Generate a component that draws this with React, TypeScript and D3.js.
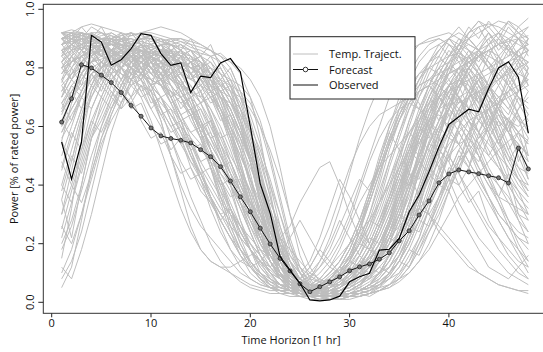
import React from "react";
import * as d3 from "d3";

const hours = d3.range(1, 49);

const forecast = [0.615,0.695,0.811,0.80,0.775,0.75,0.716,0.672,0.635,0.595,0.568,0.559,0.553,0.544,0.521,0.497,0.463,0.414,0.36,0.309,0.253,0.199,0.15,0.107,0.063,0.036,0.053,0.07,0.087,0.108,0.121,0.131,0.147,0.169,0.21,0.244,0.298,0.346,0.408,0.438,0.452,0.445,0.439,0.432,0.425,0.407,0.526,0.455];

const observed = [0.547,0.42,0.547,0.911,0.888,0.809,0.828,0.866,0.917,0.911,0.849,0.809,0.817,0.716,0.772,0.767,0.817,0.832,0.786,0.60,0.405,0.304,0.156,0.11,0.065,0.008,0.005,0.008,0.021,0.07,0.087,0.099,0.178,0.181,0.218,0.309,0.366,0.446,0.531,0.607,0.633,0.659,0.65,0.73,0.80,0.821,0.768,0.577];

// Temporal trajectories (percent of rated power)
const trajectories: number[][] = [
[88,90,91,90,92,89,90,88,87,85,86,82,80,78,72,63,52,40,28,18,10,6,4,3,2,2,3,4,5,7,9,12,18,27,38,50,62,70,76,80,78,82,85,80,76,79,83,80],
[75,82,86,88,90,91,89,90,88,86,84,85,83,80,81,78,75,70,60,48,34,22,12,7,4,3,2,2,3,4,6,8,10,14,22,32,45,55,62,66,70,72,68,64,60,63,58,55],
[62,70,78,84,87,88,86,84,80,76,70,64,58,50,42,35,28,22,16,12,8,6,5,4,4,5,6,8,11,15,21,30,40,52,62,70,76,80,82,84,85,83,86,88,90,87,84,82],
[92,93,92,91,90,90,91,92,90,89,90,88,89,87,86,84,85,82,78,70,56,38,20,10,5,3,2,2,3,3,4,6,8,12,18,26,36,46,55,60,62,58,50,44,40,36,30,28],
[15,32,55,72,80,84,86,85,83,84,82,80,76,70,62,52,42,32,22,14,9,6,4,3,3,4,5,7,10,14,20,28,38,48,58,66,72,74,70,66,62,58,54,50,46,42,38,34],
[80,84,87,86,84,82,80,78,76,70,62,50,38,26,18,14,12,10,8,6,5,4,4,3,3,4,6,9,12,16,22,30,42,55,66,75,82,86,88,90,88,86,84,80,78,82,86,88],
[85,88,90,89,88,86,87,88,86,82,80,78,75,72,74,70,66,60,52,42,30,18,10,6,4,3,3,2,2,3,3,4,5,6,8,10,14,18,24,30,36,40,44,48,52,55,58,62],
[70,76,80,82,85,84,86,88,90,91,89,88,86,82,78,72,64,54,44,34,24,16,10,6,5,4,4,5,8,14,24,36,48,58,66,72,78,82,84,80,76,72,68,72,76,80,84,86],
[55,68,78,84,86,88,88,87,85,83,80,77,74,70,66,60,54,48,40,32,24,16,10,7,6,6,8,12,18,26,34,40,46,50,54,58,62,66,70,74,76,74,70,66,62,58,52,48],
[90,91,90,88,87,85,84,82,80,78,76,74,70,64,56,46,36,26,18,12,8,5,4,4,5,8,14,22,32,44,56,66,74,80,84,86,88,89,90,88,86,82,78,74,70,66,72,78],
[40,52,64,74,80,84,86,88,89,88,86,84,82,80,78,76,72,66,58,48,36,24,14,8,5,4,3,3,4,5,7,9,12,16,22,30,40,50,58,64,68,70,72,70,66,62,60,64],
[82,86,88,90,91,92,90,86,80,72,62,50,40,32,26,22,18,14,10,8,6,5,4,4,4,5,7,10,14,20,28,38,50,60,68,74,78,80,78,74,70,66,62,58,52,46,40,36],
[78,82,84,86,88,89,90,91,92,92,91,90,89,88,87,86,84,80,72,60,44,28,14,6,3,2,2,2,2,3,4,5,6,8,10,14,20,28,36,44,52,58,62,66,70,72,74,76],
[30,45,60,70,76,80,82,84,86,85,84,80,74,66,58,50,42,34,26,18,12,8,6,5,5,6,8,12,16,20,24,28,34,40,46,52,58,62,64,60,54,48,42,36,30,26,22,20],
[88,89,88,87,86,88,89,90,88,86,84,86,88,86,82,76,68,58,46,34,22,14,8,5,3,3,3,4,6,9,14,20,28,38,50,62,72,80,86,90,92,90,86,82,78,74,70,66],
[65,72,76,80,82,80,78,76,74,72,68,64,60,56,52,48,44,40,34,28,22,16,12,9,7,6,6,7,9,12,16,22,30,40,50,58,64,68,70,72,74,76,78,80,82,84,86,88],
[92,92,91,90,88,86,84,82,84,86,88,89,90,88,84,78,70,60,48,36,24,14,8,4,2,2,2,3,4,6,8,12,18,26,36,48,60,70,78,84,88,90,92,94,96,95,92,90],
[50,60,70,76,80,82,84,86,87,88,86,82,76,68,58,46,34,24,16,10,7,5,4,4,5,7,10,14,20,28,38,48,56,62,66,68,66,62,56,50,44,38,32,26,22,18,14,12],
[86,88,90,91,90,89,88,87,86,84,82,80,78,76,74,72,70,68,64,58,50,40,30,20,12,7,4,3,3,4,5,7,10,14,20,28,38,48,58,66,74,80,84,86,88,86,84,82],
[72,78,82,85,86,85,84,82,78,74,70,66,62,58,54,50,46,42,38,34,30,26,22,18,14,10,8,6,6,7,9,12,16,22,30,40,50,60,68,74,78,80,76,70,64,58,54,50],
[90,91,92,91,90,88,86,84,80,74,66,56,46,36,28,20,14,10,7,5,4,3,3,3,4,5,7,10,14,20,28,36,46,56,64,70,74,76,78,80,82,84,86,84,82,80,78,76],
[60,66,72,78,82,84,85,86,86,87,88,88,87,86,85,84,82,78,70,58,44,30,18,10,6,4,3,2,2,2,3,4,6,9,14,22,32,44,56,66,74,78,72,64,56,50,46,44],
[84,86,87,86,84,83,82,80,78,76,74,72,68,64,60,54,48,40,32,24,16,10,6,4,3,3,3,4,5,7,10,14,20,28,38,48,56,62,66,68,62,54,46,40,36,34,32,30],
[20,28,40,56,68,76,80,82,84,85,86,86,85,84,82,78,72,64,54,42,30,20,12,7,4,3,2,2,3,4,6,9,14,22,32,44,56,66,72,76,80,82,84,86,88,90,92,94],
[88,90,91,92,92,91,90,89,88,87,86,85,84,83,82,80,78,76,74,70,62,50,36,22,12,6,3,2,1,1,2,3,4,6,9,14,22,32,44,56,66,72,76,78,80,82,84,86],
[76,80,84,86,88,88,87,86,84,80,74,68,60,52,44,36,28,22,16,12,9,7,6,6,7,9,12,16,22,30,40,50,60,70,78,84,88,90,91,92,90,88,86,82,78,74,70,68],
[92,91,90,88,86,84,82,80,78,76,74,72,70,66,62,56,50,44,38,32,26,20,15,11,8,6,5,5,6,8,10,13,16,20,24,28,32,36,40,44,48,52,56,60,64,62,58,54],
[68,74,78,82,84,86,88,89,90,90,89,88,86,84,80,74,66,56,44,32,22,14,9,6,4,3,3,3,4,6,8,12,18,26,36,46,56,64,70,74,76,72,66,60,66,72,78,82],
[45,56,66,74,80,84,87,89,90,91,90,89,88,86,84,82,78,72,62,50,38,26,16,10,6,4,3,3,4,5,7,10,14,18,24,30,36,42,48,54,58,62,64,66,68,70,72,74],
[86,87,88,89,90,90,89,88,86,84,82,80,76,70,62,52,40,30,20,13,8,5,3,2,2,3,4,6,9,13,18,24,32,42,52,62,70,76,80,82,84,82,78,74,70,66,62,60],
[8,14,24,38,52,64,72,78,82,84,85,84,82,78,72,64,54,44,34,24,16,10,6,4,3,3,4,6,10,16,24,34,44,54,62,68,72,74,70,64,58,52,46,40,34,28,24,22],
[82,85,87,88,89,90,91,92,91,90,88,86,84,82,80,78,76,74,72,68,60,48,34,20,10,5,3,2,2,3,4,5,7,10,14,20,28,38,50,62,72,80,86,90,92,90,88,86],
[58,64,70,76,80,82,80,76,70,62,52,42,32,24,18,14,12,12,14,16,18,16,12,8,6,5,6,8,12,18,26,36,46,56,64,70,74,76,74,70,66,62,58,54,50,46,42,40],
[90,90,89,88,87,86,85,86,87,88,89,90,90,89,88,86,82,76,66,54,40,26,14,7,4,2,2,2,3,4,6,10,16,24,34,46,58,68,76,82,86,88,86,82,76,70,64,58],
[74,78,80,82,83,84,84,83,82,80,78,76,74,72,70,66,60,52,42,32,22,14,9,6,5,5,6,8,12,18,26,36,48,60,70,78,84,88,90,88,84,78,70,62,54,48,42,38],
[86,88,90,88,86,84,82,80,78,76,74,70,64,56,46,36,26,18,12,8,6,5,5,6,8,12,18,26,36,46,54,60,64,66,68,70,72,74,76,78,80,82,84,86,88,89,90,91],
[80,82,84,85,86,86,85,84,82,80,76,70,62,52,42,32,24,18,14,12,14,18,22,26,34,40,46,48,40,30,22,18,16,18,22,28,36,44,52,60,66,70,72,74,76,78,80,82],
[65,70,74,78,80,82,83,84,84,83,82,80,76,70,62,52,42,32,24,18,14,12,16,22,28,22,16,12,10,10,12,16,22,30,40,50,60,68,74,78,80,78,74,70,66,62,58,54],
[88,89,90,90,89,88,86,84,82,80,78,74,70,64,56,46,36,26,18,12,8,5,4,3,3,3,4,5,7,9,12,15,18,22,26,30,32,30,26,22,18,14,10,8,6,5,4,4],
[78,82,85,87,88,89,90,90,89,88,86,84,82,80,78,76,74,72,70,66,60,52,42,30,20,12,7,4,3,3,4,5,7,10,14,20,28,36,44,50,54,56,50,42,34,26,18,12],
[35,48,62,72,78,82,84,86,86,85,84,82,80,78,76,74,72,70,66,60,52,42,30,18,10,5,3,2,2,3,4,6,10,16,26,38,52,64,74,82,88,92,94,95,94,92,90,88],
[92,92,92,91,90,89,88,87,86,85,84,83,82,80,78,76,72,66,58,48,36,24,14,8,4,2,1,1,1,2,2,3,4,5,7,10,14,20,28,38,48,58,66,72,78,82,86,90],
[90,92,94,95,94,93,92,91,92,93,94,93,92,90,88,86,84,82,80,76,70,60,46,30,16,8,4,2,2,2,3,4,6,9,14,22,32,44,56,66,74,80,84,86,84,80,76,72],
[82,76,84,88,80,86,90,84,88,82,86,80,84,76,80,72,66,58,46,38,26,18,10,6,3,2,2,4,3,6,10,8,14,22,30,42,48,60,66,58,70,64,72,60,54,62,48,56],
[90,86,92,88,84,90,86,92,88,84,80,86,78,82,74,78,70,62,56,44,30,22,12,8,4,2,1,2,2,3,5,4,8,12,16,24,34,42,52,48,60,56,66,74,68,78,72,80],
[70,80,74,84,88,84,90,86,80,84,78,70,74,66,58,62,50,42,34,30,20,14,10,6,4,6,3,5,8,6,12,18,26,34,44,40,52,62,58,68,74,66,58,50,56,44,38,30],
[55,48,62,70,78,74,82,86,80,84,88,82,86,78,72,76,68,60,52,40,32,20,14,8,6,4,3,2,2,3,4,6,5,10,14,12,20,26,34,44,52,46,58,64,56,62,70,64],
[92,88,90,84,88,82,76,80,72,66,70,62,56,48,44,36,30,24,18,14,10,8,6,5,4,3,4,6,5,8,12,10,16,24,32,40,50,58,66,74,80,86,82,88,92,86,90,84],
[35,22,40,56,62,70,66,76,80,74,82,78,84,80,76,70,72,64,56,48,36,26,18,10,6,4,2,2,3,2,4,3,6,8,12,18,16,24,30,38,46,54,50,42,36,44,30,24],
[88,92,86,90,94,88,92,86,90,84,88,82,86,90,84,88,80,74,62,48,34,20,10,4,2,1,1,2,1,2,3,2,4,6,10,16,22,32,40,52,60,70,76,72,80,86,90,94],
[64,72,66,78,72,80,76,70,74,66,60,52,56,46,40,34,28,32,24,18,14,10,8,6,5,4,6,8,12,10,16,22,20,28,36,44,42,52,60,56,64,70,76,68,74,80,72,76],
[80,86,82,88,84,90,86,82,86,80,76,80,72,68,60,52,44,38,28,20,14,8,6,4,3,2,3,2,4,6,5,10,14,20,28,36,46,54,62,70,64,72,80,74,66,58,64,50],
[10,18,30,44,56,64,72,80,76,84,80,86,82,78,82,74,70,66,58,50,40,28,18,10,6,4,3,2,3,4,6,10,16,24,34,44,56,64,72,78,84,80,86,90,84,88,82,78],
[86,90,88,92,90,86,88,84,80,82,76,78,72,74,68,70,62,64,56,50,44,34,26,16,10,6,4,3,2,3,4,6,8,12,18,26,24,32,40,38,46,52,48,56,62,58,66,70],
[74,68,76,82,78,86,82,88,84,80,84,78,80,72,76,70,64,56,46,36,26,16,10,6,4,3,4,3,5,8,12,18,14,20,30,26,36,44,40,50,58,52,44,36,28,22,16,10],
[90,88,84,86,82,78,80,74,70,72,64,58,60,50,44,46,38,32,26,20,16,12,8,6,4,3,3,4,6,10,16,24,34,46,56,66,74,82,86,90,94,90,86,92,88,84,90,86],
[60,70,78,74,82,86,84,88,92,88,90,86,88,84,80,84,78,72,64,52,40,28,16,8,4,2,2,1,1,2,2,3,4,5,8,12,18,26,36,46,44,54,62,58,68,76,70,64],
[84,80,86,82,88,86,84,80,84,78,82,74,66,70,60,54,48,40,42,34,28,22,18,12,8,6,5,4,4,5,8,12,18,26,36,48,58,68,62,72,78,70,62,68,56,48,54,42],
[46,58,52,66,74,70,80,84,78,86,82,88,84,86,80,82,76,70,60,48,34,22,12,6,3,2,2,3,4,6,10,16,24,34,44,54,50,60,70,66,76,82,78,72,66,74,80,86],
[92,90,94,90,88,92,90,86,84,88,82,84,80,76,78,72,66,58,48,36,24,14,8,4,3,2,2,2,3,4,6,10,18,28,40,52,64,74,82,88,84,90,94,88,82,76,82,74],
[78,84,80,86,90,86,82,84,78,74,76,68,62,64,56,48,40,32,24,18,12,8,5,4,3,3,4,6,9,14,20,28,26,34,42,40,48,44,52,48,40,34,38,28,22,16,12,8],
[68,62,72,78,74,82,86,82,78,82,76,80,74,78,70,74,66,60,54,46,38,30,22,14,8,5,4,3,3,4,6,8,12,10,16,22,28,26,34,42,50,46,54,60,66,62,56,50],
[25,38,50,62,70,66,74,80,76,72,78,70,64,66,58,52,46,40,34,26,18,12,8,5,4,3,4,6,10,16,24,20,28,36,44,52,48,58,66,72,68,76,70,62,54,60,52,46],
[88,84,90,86,82,86,80,84,88,84,86,90,86,82,84,80,76,80,72,64,54,40,26,14,6,3,2,1,2,2,3,4,6,10,16,24,34,46,58,68,76,84,88,92,86,90,84,78],
[72,78,84,80,76,72,66,70,62,56,58,50,44,46,38,34,28,22,18,14,10,7,5,4,3,3,4,5,8,12,18,26,36,48,58,68,76,82,88,84,90,86,80,74,68,72,64,58],
[82,88,92,88,90,86,90,92,88,90,86,88,84,86,82,78,80,74,66,56,44,32,20,10,5,3,2,2,2,3,4,6,10,16,24,34,44,54,52,62,70,66,74,68,60,52,44,38],
[40,34,46,58,66,74,70,78,84,80,76,82,78,74,68,72,64,58,50,42,32,22,14,8,5,3,2,3,4,6,9,14,20,28,38,50,60,56,66,74,80,74,68,76,84,78,86,80],
[90,92,88,84,86,80,84,78,80,74,76,70,72,66,60,62,54,46,38,30,22,16,10,7,5,4,3,3,4,5,7,10,15,22,30,28,38,46,42,50,44,36,30,24,18,14,10,8],
[58,66,72,80,76,84,80,86,82,84,88,84,80,82,78,80,74,76,70,62,50,36,22,12,6,3,2,2,3,3,4,6,9,14,20,28,38,48,58,66,62,70,78,74,82,88,82,90],
[86,82,88,84,80,84,78,74,76,68,70,62,54,56,48,42,36,30,24,18,13,9,6,5,4,4,5,7,10,14,12,18,26,34,44,54,62,70,66,74,70,62,56,62,68,60,66,72],
[76,84,80,88,84,90,88,84,88,84,82,86,80,84,78,74,76,70,62,52,42,30,18,10,5,3,2,2,2,3,4,5,7,10,14,20,28,36,46,56,54,62,58,66,60,52,58,48],
[18,26,38,50,60,68,74,70,78,82,78,84,80,76,80,72,64,56,44,32,22,14,8,5,3,2,2,3,5,8,12,18,26,36,48,60,70,78,84,90,86,92,96,92,88,94,90,86],
[92,88,86,90,86,84,88,82,84,78,80,74,70,72,64,56,48,40,32,24,16,10,6,4,3,3,4,6,10,16,24,34,44,54,62,70,66,74,80,76,70,64,58,52,46,40,34,28],
[66,74,70,78,82,78,84,80,76,80,74,68,70,62,56,58,50,44,38,32,26,20,14,10,7,5,4,4,5,7,10,14,20,28,38,48,58,66,74,70,78,84,80,86,80,74,68,62],
[84,90,86,92,88,84,86,82,86,80,82,76,78,72,74,68,70,64,58,50,40,30,20,12,6,3,2,1,1,2,2,3,4,6,8,12,18,24,32,40,48,56,52,60,68,64,72,78],
[5,12,28,46,60,70,76,82,78,84,80,76,72,66,58,48,38,28,20,14,10,7,5,4,4,5,7,10,14,20,28,38,48,58,52,44,36,30,24,20,16,12,10,8,6,5,4,3],
[48,40,34,44,56,66,74,80,84,80,76,70,62,54,46,40,34,30,26,22,18,14,10,8,6,5,6,8,12,18,26,34,44,54,64,72,68,60,50,42,34,28,22,18,14,10,8,6],
[26,20,30,42,54,62,68,74,78,74,70,64,58,50,44,38,32,28,22,18,14,10,8,6,8,12,18,14,10,8,12,18,26,36,46,56,66,74,80,86,82,76,68,58,48,38,28,20],
[88,90,86,84,88,84,80,76,78,70,64,66,58,52,54,46,40,42,34,28,22,18,14,10,8,6,5,6,8,12,10,16,22,30,38,46,54,62,70,78,86,92,96,94,90,96,92,88],
[62,56,66,74,70,78,84,80,86,82,78,80,72,66,68,60,52,44,36,28,20,14,9,6,4,3,3,4,6,9,13,18,24,32,40,48,56,52,46,38,30,24,18,12,10,8,12,16],
[80,84,78,82,86,80,84,78,72,74,66,60,62,54,48,50,42,36,38,30,26,22,18,14,10,8,7,8,10,14,20,18,24,32,42,52,62,70,76,82,78,72,64,56,48,40,34,30],
[12,8,18,30,44,58,68,76,82,86,84,88,86,82,84,78,74,68,60,50,38,26,16,9,5,3,2,2,3,4,6,9,14,20,28,38,48,58,66,74,70,62,54,46,40,34,28,24],
[90,86,88,92,88,84,86,80,82,76,78,72,68,70,62,56,58,50,44,38,30,24,18,12,8,5,4,5,7,10,14,20,28,36,46,56,64,72,78,84,88,84,78,70,62,54,46,40],
[70,76,72,80,76,84,80,76,80,74,70,72,64,58,60,52,46,48,40,34,28,24,20,16,12,9,7,6,6,8,11,15,20,26,34,42,50,58,66,72,76,72,66,58,50,42,36,32],
[84,88,92,90,86,90,88,84,86,82,84,80,82,78,80,76,72,66,58,48,38,28,18,10,6,3,2,2,2,3,4,6,10,16,24,34,46,58,70,80,88,94,90,96,92,88,94,97],
[38,50,44,56,64,72,68,76,82,78,74,78,70,64,66,58,50,42,34,26,20,16,12,10,8,10,14,20,28,22,16,12,10,12,16,22,30,40,50,58,66,60,52,44,36,28,20,14],
[92,90,92,88,90,86,88,84,86,82,80,76,78,72,68,62,56,48,40,32,24,18,12,8,5,4,3,3,4,6,8,12,16,22,20,26,32,30,36,42,40,46,40,34,28,22,18,14],
[56,62,70,66,74,80,76,82,86,82,84,86,80,82,76,78,72,74,66,58,48,36,24,14,8,4,3,2,2,3,4,6,10,16,24,34,44,54,62,70,76,80,84,80,74,68,62,56],
[76,70,78,84,80,86,84,88,84,86,88,84,86,82,84,78,80,74,68,58,46,32,20,10,5,2,1,1,1,2,2,3,5,8,12,18,26,34,44,52,60,66,70,74,66,58,50,42],
[30,40,52,62,58,66,72,68,74,70,66,60,54,48,42,36,30,26,22,18,14,11,8,6,5,5,6,8,11,15,20,26,34,42,50,58,54,62,70,66,74,80,76,84,90,86,80,74],
[86,82,84,80,76,78,72,66,68,60,54,56,48,42,44,36,30,32,26,20,16,12,9,7,6,8,12,18,26,34,42,38,46,54,62,70,76,82,86,90,86,80,74,66,58,50,42,36],
[68,72,78,84,80,76,80,84,88,84,80,84,78,82,76,72,74,68,62,54,44,32,22,14,8,5,3,3,4,6,9,13,18,24,32,40,48,44,52,58,54,48,42,36,30,26,22,18],
[90,92,90,94,92,90,92,88,90,86,88,84,86,82,80,76,70,62,52,40,28,18,10,5,3,2,2,2,3,4,6,9,14,20,28,38,50,62,72,80,86,90,86,80,84,78,72,80],
[22,34,48,60,70,78,74,82,86,82,86,80,84,78,72,66,58,48,38,28,20,14,10,7,5,4,4,5,7,10,14,12,18,24,30,38,46,54,60,66,72,78,84,88,92,96,94,90],
[80,76,82,86,82,86,90,86,88,84,80,82,76,70,72,64,56,58,50,42,34,26,20,14,10,14,22,32,42,36,28,20,14,16,22,30,40,50,60,68,74,80,76,70,64,58,54,50],
];

const yTicks = [0, 0.2, 0.4, 0.6, 0.8, 1.0];
const xTicks = [0, 10, 20, 30, 40];
const legendItems = ["Temp. Traject.", "Forecast", "Observed"];

const W = 543, H = 352;
const box = { left: 43.3, top: 4.3, bottom: 313.3, right: 548 };
const FONT = "'Open Sans', 'DejaVu Sans', sans-serif";

export default function App() {
  const x = d3.scaleLinear().domain([0, 48]).range([51.7, 51.7 + 48 * 9.93]);
  const y = d3.scaleLinear().domain([0, 1]).range([302.3, 9.3]);
  const line = d3.line<number>().x((_, i) => x(hours[i])).y((d) => y(d));
  const trajLine = d3.line<number>().x((_, i) => x(hours[i])).y((d) => y(d / 100));

  return (
    <svg width={W} height={H} style={{ position: "absolute", left: 0, top: 0, background: "#fff" }}>
      <defs>
        <clipPath id="plotclip">
          <rect x={box.left} y={box.top} width={box.right - box.left} height={box.bottom - box.top} />
        </clipPath>
      </defs>
      <g clipPath="url(#plotclip)">
        {trajectories.map((t, i) => (
          <path key={i} d={trajLine(t) || ""} fill="none" stroke="#bebebe" strokeWidth={1} />
        ))}
        <path d={line(forecast) || ""} fill="none" stroke="#111" strokeWidth={1} />
        {forecast.map((v, i) => (
          <circle key={i} cx={x(hours[i])} cy={y(v)} r={2} fill="#777" stroke="#222" strokeWidth={0.8} />
        ))}
        <path d={line(observed) || ""} fill="none" stroke="#000" strokeWidth={1.2} />
      </g>
      <rect x={box.left} y={box.top} width={box.right - box.left} height={box.bottom - box.top} fill="none" stroke="#333" strokeWidth={1} />
      {yTicks.map((v) => (
        <g key={v}>
          <line x1={box.left} x2={box.left - 5} y1={y(v)} y2={y(v)} stroke="#222" />
          <text
            transform={`translate(34,${y(v)}) rotate(-90)`}
            textAnchor="middle"
            fontFamily={FONT}
            fontSize={11}
            fill="#111"
          >
            {d3.format(".1f")(v)}
          </text>
        </g>
      ))}
      <text transform={`translate(18,${(box.top + box.bottom) / 2}) rotate(-90)`} textAnchor="middle" fontFamily={FONT} fontSize={11} fill="#111">
        Power [% of rated power]
      </text>
      {xTicks.map((v) => (
        <g key={v}>
          <line x1={x(v)} x2={x(v)} y1={box.bottom} y2={box.bottom + 4} stroke="#222" />
          <text x={x(v)} y={327} textAnchor="middle" fontFamily={FONT} fontSize={11} fill="#111">
            {v}
          </text>
        </g>
      ))}
      <text x={291} y={344} textAnchor="middle" fontFamily={FONT} fontSize={11} fill="#111">
        Time Horizon [1 hr]
      </text>
      <g>
        <rect x={290} y={36.7} width={125} height={62.3} fill="#fff" stroke="#222" strokeWidth={1} />
        {legendItems.map((lab, i) => {
          const cy = 54 + i * 15.5;
          return (
            <g key={lab}>
              <line x1={293} x2={318} y1={cy} y2={cy} stroke={i === 0 ? "#bebebe" : "#111"} strokeWidth={1} />
              {i === 1 && <circle cx={305.5} cy={cy} r={2.3} fill="#fff" stroke="#222" strokeWidth={0.9} />}
              <text x={329} y={cy + 4} fontFamily={FONT} fontSize={11} fill="#111">
                {lab}
              </text>
            </g>
          );
        })}
      </g>
    </svg>
  );
}
